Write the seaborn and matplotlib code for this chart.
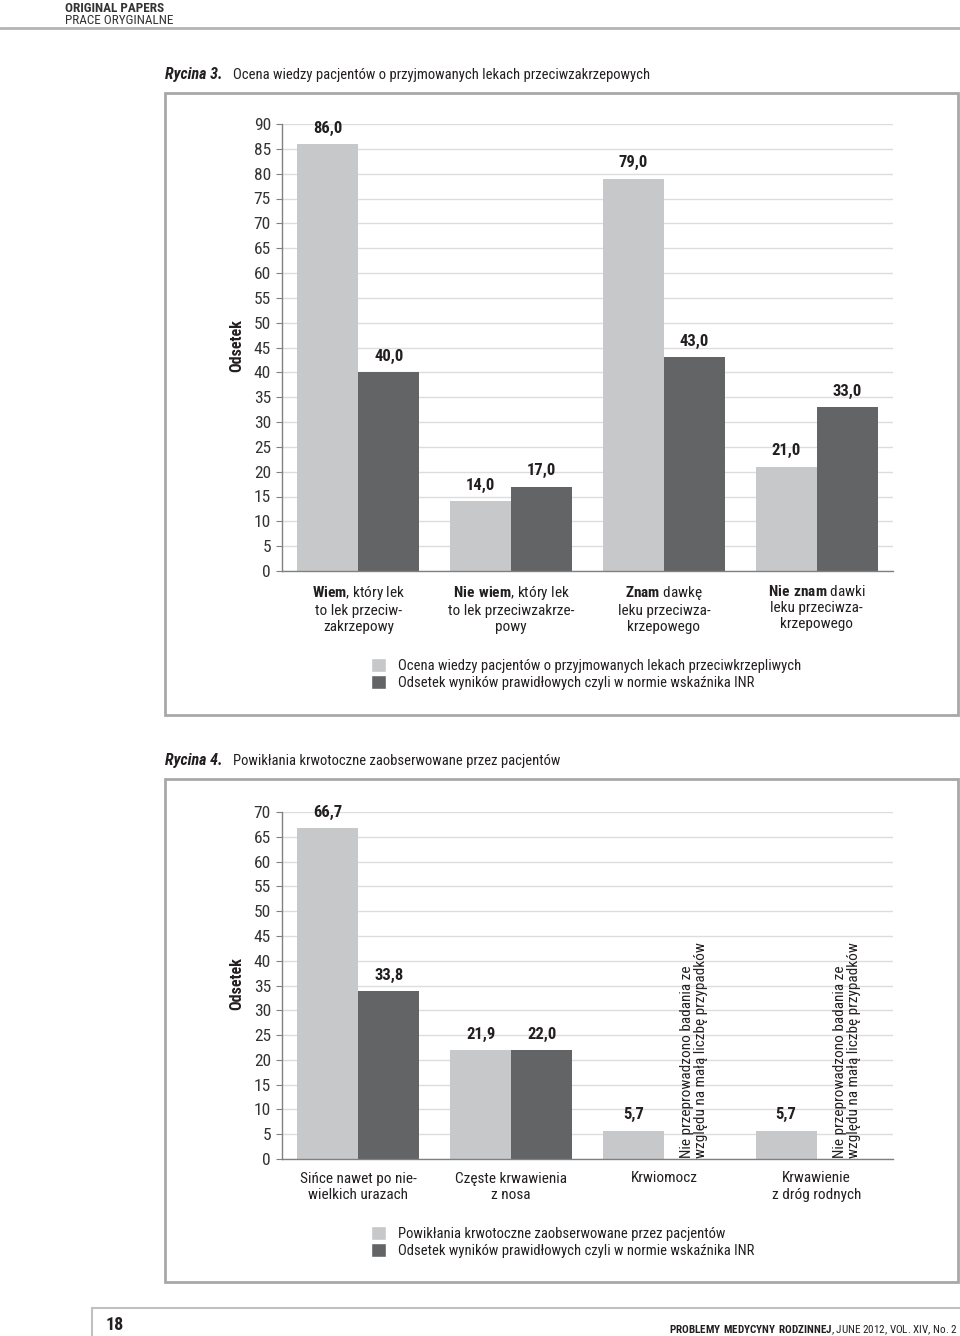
import numpy as np
import pandas as pd
import matplotlib
matplotlib.use("Agg")
import matplotlib.pyplot as plt
import seaborn as sns
from matplotlib import font_manager
from matplotlib.patches import Rectangle, Patch
from matplotlib.lines import Line2D

# ---- data ----
series_fig3 = ["Ocena wiedzy pacjentów o przyjmowanych lekach przeciwkrzepliwych",
               "Odsetek wyników prawidłowych czyli w normie wskaźnika INR"]
cats_fig3 = ["Wiem", "Nie wiem", "Znam dawkę", "Nie znam dawki"]
labels_fig3 = [r"$\mathbf{Wiem}$, który lek" + "\nto lek przeciw-\nzakrzepowy",
               r"$\mathbf{Nie\ wiem}$, który lek" + "\nto lek przeciwzakrze-\npowy",
               r"$\mathbf{Znam}$ dawkę" + "\nleku przeciwza-\nkrzepowego",
               r"$\mathbf{Nie\ znam}$ dawki" + "\nleku przeciwza-\nkrzepowego"]
knowledge = [86.0, 14.0, 79.0, 21.0]
inr_fig3 = [40.0, 17.0, 43.0, 33.0]

series_fig4 = ["Powikłania krwotoczne zaobserwowane przez pacjentów",
               "Odsetek wyników prawidłowych czyli w normie wskaźnika INR"]
cats_fig4 = ["Sińce nawet po niewielkich urazach", "Częste krwawienia z nosa",
             "Krwiomocz", "Krwawienie z dróg rodnych"]
labels_fig4 = ["Sińce nawet po nie-\nwielkich urazach", "Częste krwawienia\nz nosa",
               "Krwiomocz", "Krwawienie\nz dróg rodnych"]
complications = [66.7, 21.9, 5.7, 5.7]
inr_fig4 = [33.8, 22.0, np.nan, np.nan]
note_fig4 = "Nie przeprowadzono badania ze\nwzględu na małą liczbę przypadków"

light = "#c7c8ca"
dark = "#636466"
txt = "#231f20"

sns.set_style("white")
names = {f.name for f in font_manager.fontManager.ttflist}
base = next(n for n in ["Liberation Sans Narrow", "Roboto Condensed", "DejaVu Sans"] if n in names)
plt.rcParams["font.family"] = [base, "DejaVu Sans"]
plt.rcParams["mathtext.fontset"] = "custom"
plt.rcParams["mathtext.rm"] = base
plt.rcParams["mathtext.bf"] = base + ":bold"
plt.rcParams["text.color"] = txt

W, H = 960, 1336
fig = plt.figure(figsize=(W / 100, H / 100), dpi=100)


def fx(px):
    return px / W


def fy(py):
    return 1 - py / H


def hline(x0, x1, y, color="#b4b4b4", lw=2):
    fig.add_artist(Line2D([fx(x0), fx(x1)], [fy(y), fy(y)], transform=fig.transFigure,
                          color=color, lw=lw))


def frame(x0, y0, x1, y1):
    fig.add_artist(Rectangle((fx(x0), fy(y1)), fx(x1) - fx(x0), fy(y0) - fy(y1),
                             transform=fig.transFigure, fill=False, ec="#a8a8a8", lw=2))


def chart(rect, cats, ticklabels, vals_a, vals_b, series, ymax):
    df = pd.DataFrame({
        "cat": cats * 2,
        "series": [series[0]] * len(cats) + [series[1]] * len(cats),
        "value": list(vals_a) + list(vals_b),
    })
    ax = fig.add_axes(rect)
    sns.barplot(data=df, x="cat", y="value", hue="series", order=cats, hue_order=series,
                palette=[light, dark], saturation=1, width=0.8, errorbar=None,
                legend=False, linewidth=0, ax=ax, zorder=2)
    ax.set_xlim(-0.5, len(cats) - 0.5)
    ax.set_ylim(0, ymax)
    ax.set_yticks(np.arange(0, ymax + 1, 5))
    ax.yaxis.grid(True, color="#dddddd", lw=1, zorder=0)
    ax.set_axisbelow(True)
    for s in ["top", "right"]:
        ax.spines[s].set_visible(False)
    for s in ["left", "bottom"]:
        ax.spines[s].set_color("#808080")
        ax.spines[s].set_linewidth(1)
    ax.set_xticks(range(len(cats)), labels=ticklabels)
    ax.set_xticks(np.arange(-0.5, len(cats)), minor=True)
    ax.tick_params(axis="x", which="major", length=0, pad=9, labelsize=11, labelcolor=txt)
    ax.tick_params(axis="x", which="minor", length=6, color="#808080", direction="out")
    ax.tick_params(axis="y", length=4, color="#808080", pad=4, labelsize=12.5, labelcolor="#333333",
                   left=True)
    ax.set_xlabel("")
    ax.set_ylabel("Odsetek", fontsize=11.5, fontweight="bold", color=txt)
    ax.yaxis.set_label_coords(-0.062, 0.505)
    for cont in ax.containers:
        for bar in cont:
            h = bar.get_height()
            if np.isfinite(h) and h > 0:
                ax.annotate(f"{h:.1f}".replace(".", ","),
                            (bar.get_x() + bar.get_width() / 2, h),
                            xytext=(0, 6), textcoords="offset points",
                            ha="center", va="bottom", fontsize=12, fontweight="bold", color=txt)
    return ax


# header
fig.text(fx(65), fy(8), "ORIGINAL PAPERS", fontsize=9.5, fontweight="bold", va="center", color="#333333")
fig.text(fx(65), fy(20), "PRACE ORYGINALNE", fontsize=9.5, va="center", color="#333333")
hline(0, 960, 28)

# Rycina 3
fig.text(fx(165), fy(75), "Rycina 3.", fontsize=11.5, fontweight="bold", style="italic", va="center")
fig.text(fx(233), fy(75), "Ocena wiedzy pacjentów o przyjmowanych lekach przeciwzakrzepowych",
         fontsize=10.5, va="center")
frame(165, 93, 958, 715)
ax1 = chart([fx(282), fy(571), fx(893) - fx(282), fy(124) - fy(571)],
            cats_fig3, labels_fig3, knowledge, inr_fig3, series_fig3, 90)
fig.legend([Patch(facecolor=light), Patch(facecolor=dark)], series_fig3,
           loc="upper left", bbox_to_anchor=(fx(371), fy(658)), frameon=False,
           borderpad=0, borderaxespad=0, handlelength=1.05, handleheight=1.15,
           handletextpad=0.8, labelspacing=0.1, fontsize=10.5)

# Rycina 4
fig.text(fx(165), fy(761), "Rycina 4.", fontsize=11.5, fontweight="bold", style="italic", va="center")
fig.text(fx(233), fy(761), "Powikłania krwotoczne zaobserwowane przez pacjentów",
         fontsize=10.5, va="center")
frame(165, 779, 958, 1282)
ax2 = chart([fx(282), fy(1159), fx(893) - fx(282), fy(812) - fy(1159)],
            cats_fig4, labels_fig4, complications, inr_fig4, series_fig4, 70)
for i, v in enumerate(inr_fig4):
    if np.isnan(v):
        ax2.text(i + 0.2, 0.3, note_fig4, rotation=90, ha="center", va="bottom",
                 multialignment="left", fontsize=11, color=txt, linespacing=1.0)
fig.legend([Patch(facecolor=light), Patch(facecolor=dark)], series_fig4,
           loc="upper left", bbox_to_anchor=(fx(371), fy(1226)), frameon=False,
           borderpad=0, borderaxespad=0, handlelength=1.05, handleheight=1.15,
           handletextpad=0.8, labelspacing=0.1, fontsize=10.5)

# footer
hline(92, 960, 1308, color="#c0c0c0", lw=1.5)
fig.add_artist(Line2D([fx(92), fx(92)], [fy(1308), fy(1336)], transform=fig.transFigure,
                      color="#c0c0c0", lw=1.5))
fig.text(fx(106), fy(1325), "18", fontsize=13, fontweight="bold", va="center")
fig.text(fx(958), fy(1330),
         r"$\mathbf{PROBLEMY\ MEDYCYNY\ RODZINNEJ}$, JUNE 2012, VOL. XIV, No. 2",
         fontsize=8, ha="right", va="center")

fig.savefig("out.png", dpi=100)
